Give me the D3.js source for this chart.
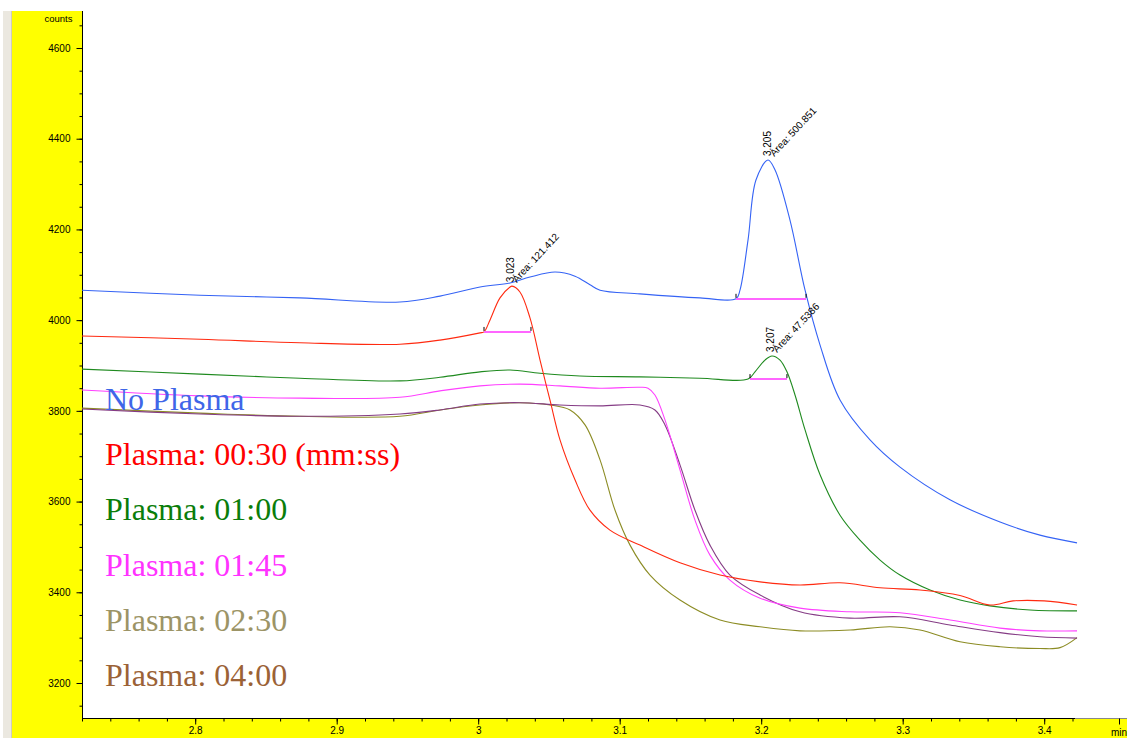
<!DOCTYPE html>
<html>
<head>
<meta charset="utf-8">
<script src="https://cdn.jsdelivr.net/npm/d3@7"></script>
<style>
  body { margin: 0; background: #fff; }
  svg { display: block; }
</style>
</head>
<body>
<div id="chart"></div>
<script>
/* chromatogram data: [time (min), counts] */
var noPlasma = [[2.72,4066],[2.8034,4055],[2.874,4049],[2.9447,4040],[2.973,4053],[3.0013,4073],[3.0225,4082],[3.0366,4095],[3.0543,4106],[3.0684,4097],[3.0790,4078],[3.0861,4066],[3.1143,4058],[3.1567,4049],[3.1822,4047],[3.185,4066],[3.1907,4177],[3.1963,4309],[3.2048,4353],[3.2098,4331],[3.2203,4221],[3.231,4066],[3.2416,3945],[3.2557,3824],[3.2769,3736],[3.2981,3676],[3.3334,3604],[3.3688,3555],[3.397,3526],[3.4232,3509]];
var plasma0030 = [[2.72,3965],[2.8034,3958],[2.874,3950],[2.9447,3947],[2.973,3956],[3.0013,3972],[3.0041,3974],[3.0083,4000],[3.0154,4049],[3.0225,4073],[3.0239,4075],[3.0295,4062],[3.0366,4005],[3.0437,3912],[3.0507,3824],[3.0578,3736],[3.0684,3648],[3.079,3581],[3.0931,3537],[3.1143,3504],[3.1426,3465],[3.1709,3438],[3.1992,3423],[3.2274,3416],[3.2557,3421],[3.284,3410],[3.3122,3405],[3.3405,3393],[3.3617,3372],[3.378,3381],[3.4,3381],[3.4232,3372]];
var plasma0100 = [[2.72,3892],[2.8034,3881],[2.874,3872],[2.9447,3866],[2.973,3874],[3.0013,3886],[3.0225,3890],[3.0437,3883],[3.0719,3877],[3.1143,3875],[3.1567,3872],[3.1907,3870],[3.1956,3886],[3.2027,3912],[3.2076,3921],[3.2133,3912],[3.2182,3886],[3.2239,3835],[3.231,3758],[3.2416,3659],[3.2557,3570],[3.2698,3515],[3.284,3471],[3.2981,3438],[3.3193,3405],[3.3405,3383],[3.3617,3370],[3.39,3361],[3.4232,3359]];
var plasma0145 = [[2.72,3846],[2.8034,3833],[2.874,3828],[2.9447,3830],[2.973,3844],[3.0013,3855],[3.0295,3859],[3.0578,3855],[3.0861,3850],[3.1143,3852],[3.12,3850],[3.1249,3835],[3.132,3780],[3.1426,3670],[3.1532,3559],[3.1638,3482],[3.1779,3427],[3.1992,3387],[3.2274,3365],[3.2628,3357],[3.2981,3355],[3.3334,3339],[3.3688,3321],[3.397,3315],[3.4232,3315]];
var plasma0230 = [[2.72,3806],[2.8034,3795],[2.874,3788],[2.9447,3788],[2.973,3802],[3.0013,3813],[3.0295,3818],[3.0507,3813],[3.0649,3802],[3.0755,3769],[3.0861,3692],[3.0967,3581],[3.1073,3504],[3.1214,3438],[3.1426,3383],[3.1709,3339],[3.1992,3324],[3.2274,3315],[3.2628,3317],[3.2911,3324],[3.3122,3317],[3.3405,3291],[3.3688,3280],[3.397,3276],[3.4112,3278],[3.4232,3300]];
var plasma0400 = [[2.72,3804],[2.8034,3793],[2.874,3788],[2.9447,3793],[2.973,3802],[3.0013,3815],[3.0295,3818],[3.0578,3813],[3.0861,3811],[3.1143,3813],[3.1249,3802],[3.132,3769],[3.1426,3681],[3.1532,3581],[3.1638,3504],[3.1779,3438],[3.1992,3394],[3.2274,3357],[3.2628,3343],[3.2981,3346],[3.3334,3328],[3.3688,3311],[3.397,3302],[3.4232,3299]];

var seriesNames = ["No Plasma", "Plasma: 00:30 (mm:ss)", "Plasma: 01:00", "Plasma: 01:45", "Plasma: 02:30", "Plasma: 04:00"];
var lineColors = ["#3563f5", "#ff2a10", "#1f8a1f", "#ff40ff", "#8c8c24", "#853c85"];
var labelColors = ["#3f66e8", "#ff0000", "#0a7d0a", "#ff33ff", "#9c9466", "#9b6236"];

/* integrated peaks: retention time, area, baseline start/end (min), baseline counts, apex counts */
var peakTimes = [3.023, 3.205, 3.207];
var peakAreas = ["121.412", "500.851", "47.5386"];
var peakStart = [3.0041, 3.1822, 3.1921];
var peakEnd = [3.0373, 3.2317, 3.2182];
var peakBase = [3974, 4047, 3870];
var peakApex = [4075, 4353, 3921];

var yTicks = [3200, 3400, 3600, 3800, 4000, 4200, 4400, 4600];
var xTicks = [2.8, 2.9, 3, 3.1, 3.2, 3.3, 3.4];

var W = 1127, H = 738;
var margin = {top: 11, right: 0, bottom: 20, left: 82};

var svg = d3.select("#chart").append("svg")
    .attr("width", W)
    .attr("height", H);

// yellow frame and grey left strip
svg.append("rect").attr("x", 12).attr("y", 11).attr("width", W - 12).attr("height", H - 11).attr("fill", "#ffff00");
svg.append("rect").attr("x", 3).attr("y", 11).attr("width", 8).attr("height", H - 11).attr("fill", "#ebe8e0");
svg.append("line").attr("x1", 11.5).attr("x2", 11.5).attr("y1", 11).attr("y2", H).attr("stroke", "#cfcac0");
svg.append("rect")
    .attr("x", margin.left).attr("y", margin.top)
    .attr("width", W - margin.left).attr("height", H - margin.bottom - margin.top)
    .attr("fill", "#fff");

var x = d3.scaleLinear()
    .domain([2.72, 2.72 + (W - margin.left) / 1415])
    .range([margin.left, W]);

var y = d3.scaleLinear()
    .domain([3200, 4600])
    .range([683, 48]);

var plotBottom = H - margin.bottom + 0.5;

// y axis
var yMinor = d3.range(3150, 4700, 50).filter(function(v) { return y(v) > margin.top; });
var yAxisG = svg.append("g")
    .attr("transform", "translate(" + (margin.left + 0.5) + ",0)")
    .style("font", "10px 'Liberation Sans', Arial, sans-serif");
yAxisG.call(d3.axisLeft(y).tickValues(yMinor).tickSize(3).tickFormat(""));
yAxisG.select(".domain").remove();
yAxisG.append("g").call(d3.axisLeft(y).tickValues(yTicks).tickSize(6).tickPadding(6).tickFormat(d3.format("d")))
    .call(function(g) { g.select(".domain").remove(); })
    .selectAll("text").attr("fill", "#000");
yAxisG.append("line")
    .attr("y1", margin.top).attr("y2", plotBottom)
    .attr("stroke", "#000");
yAxisG.append("text")
    .attr("x", -10).attr("y", 22)
    .attr("text-anchor", "end")
    .attr("fill", "#000")
    .style("font-size", "9.5px")
    .text("counts");

// x axis
var xMinor = d3.range(2.72, 3.43, 0.02);
var xAxisG = svg.append("g")
    .attr("transform", "translate(0," + plotBottom + ")")
    .style("font", "10px 'Liberation Sans', Arial, sans-serif");
xAxisG.call(d3.axisBottom(x).tickValues(xMinor).tickSize(3).tickFormat(""));
xAxisG.select(".domain").remove();
xAxisG.append("g").call(d3.axisBottom(x).tickValues(xTicks).tickSize(6).tickPadding(2).tickFormat(d3.format("")))
    .call(function(g) { g.select(".domain").remove(); })
    .selectAll("text").attr("fill", "#000");
xAxisG.append("line").attr("x1", margin.left).attr("x2", 1075).attr("stroke", "#000");
xAxisG.append("line").attr("x1", 1075).attr("x2", W).attr("stroke", "#888");
xAxisG.append("line").attr("x1", 1119.5).attr("x2", 1119.5).attr("y1", 0).attr("y2", 6).attr("stroke", "#000");
xAxisG.append("text")
    .attr("x", 1119).attr("y", 17)
    .attr("text-anchor", "middle")
    .attr("fill", "#000")
    .text("min");

// traces
var line = d3.line()
    .x(function(d) { return x(d[0]); })
    .y(function(d) { return y(d[1]); })
    .curve(d3.curveCatmullRom.alpha(0.5));

var traces = [noPlasma, plasma0030, plasma0100, plasma0145, plasma0230, plasma0400];
var drawOrder = [4, 5, 3, 2, 1, 0];

svg.selectAll(".trace")
    .data(drawOrder)
    .enter().append("path")
    .attr("class", "trace")
    .attr("d", function(i) { return line(traces[i]); })
    .attr("fill", "none")
    .attr("stroke", function(i) { return lineColors[i]; })
    .attr("stroke-width", 1.1);

// integration baselines with start/end marks
var peaks = svg.selectAll(".peak")
    .data(d3.range(peakTimes.length))
    .enter().append("g")
    .attr("class", "peak");

peaks.append("line")
    .attr("x1", function(i) { return x(peakStart[i]); })
    .attr("x2", function(i) { return x(peakEnd[i]); })
    .attr("y1", function(i) { return Math.round(y(peakBase[i])); })
    .attr("y2", function(i) { return Math.round(y(peakBase[i])); })
    .attr("stroke", "#ff66ff")
    .attr("stroke-width", 2);

peaks.append("line")
    .attr("x1", function(i) { return x(peakStart[i]); })
    .attr("x2", function(i) { return x(peakStart[i]); })
    .attr("y1", function(i) { return y(peakBase[i]) - 5; })
    .attr("y2", function(i) { return y(peakBase[i]) - 1; })
    .attr("stroke", "#000");

peaks.append("line")
    .attr("x1", function(i) { return x(peakEnd[i]); })
    .attr("x2", function(i) { return x(peakEnd[i]); })
    .attr("y1", function(i) { return y(peakBase[i]) - 5; })
    .attr("y2", function(i) { return y(peakBase[i]) - 1; })
    .attr("stroke", "#000");

peaks.append("text")
    .attr("transform", function(i) {
        return "translate(" + (x(peakTimes[i]) + 3) + "," + (y(peakApex[i]) - 4) + ") rotate(-90)";
    })
    .style("font", "10px 'Liberation Sans', Arial, sans-serif")
    .attr("fill", "#000")
    .text(function(i) { return d3.format(".3f")(peakTimes[i]); });

peaks.append("text")
    .attr("transform", function(i) {
        return "translate(" + (x(peakTimes[i]) + 6) + "," + (y(peakApex[i]) - 3) + ") rotate(-47)";
    })
    .style("font", "10px 'Liberation Sans', Arial, sans-serif")
    .attr("fill", "#000")
    .text(function(i) { return "Area: " + peakAreas[i]; });

// legend
svg.selectAll(".legend")
    .data(seriesNames)
    .enter().append("text")
    .attr("class", "legend")
    .attr("x", 105)
    .attr("y", function(d, i) { return 410 + i * 55.2; })
    .style("font", "32px 'Liberation Serif', 'Times New Roman', serif")
    .attr("fill", function(d, i) { return labelColors[i]; })
    .text(function(d) { return d; });
</script>
</body>
</html>
